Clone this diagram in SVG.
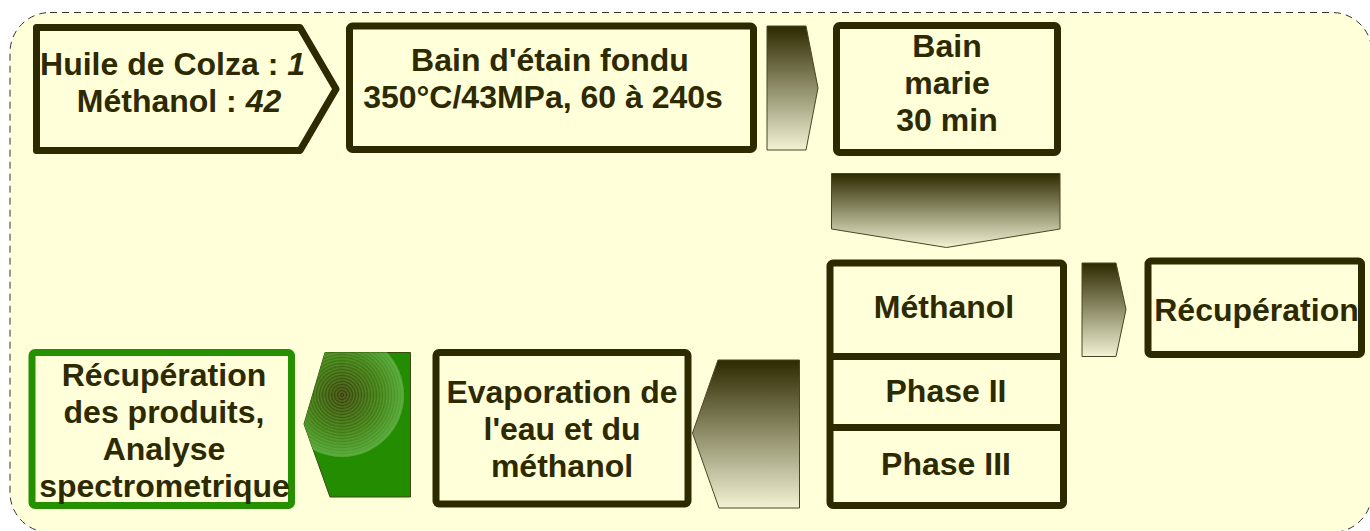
<svg xmlns="http://www.w3.org/2000/svg" width="1370" height="531" viewBox="0 0 1370 531">
  <style>
    .box { fill: none; stroke: #2d2a00; stroke-width: 7; stroke-linejoin: round; }
    .lbl { font-family: "Liberation Sans", Arial, sans-serif; font-weight: bold; font-size: 32px; fill: #2d2a00; text-anchor: middle; }
    .arrow { stroke: #4a4622; stroke-width: 1; }
    .it { font-style: italic; }
  </style>
  <defs>
    <linearGradient id="olive" x1="0" y1="0" x2="0" y2="1">
      <stop offset="0" stop-color="#2d2a00"/>
      <stop offset="1" stop-color="#f2f2d4"/>
    </linearGradient>
    <radialGradient id="glow" cx="342" cy="395" r="62" gradientUnits="userSpaceOnUse">
      <stop offset="0" stop-color="#3b3a0c"/>
      <stop offset="0.6" stop-color="#3f7a14"/>
      <stop offset="1" stop-color="#52a83a"/>
    </radialGradient>
    <!-- fine concentric rings laid over the glow -->
    <radialGradient id="rings" cx="342" cy="395" r="3" gradientUnits="userSpaceOnUse" spreadMethod="repeat">
      <stop offset="0" stop-color="#7cc04a" stop-opacity="0.35"/>
      <stop offset="0.5" stop-color="#7cc04a" stop-opacity="0"/>
      <stop offset="1" stop-color="#7cc04a" stop-opacity="0.35"/>
    </radialGradient>
    <clipPath id="hexClip">
      <polygon points="325,352.5 410.5,352.5 410.5,497 330,497 304,424"/>
    </clipPath>
  </defs>

  <!-- backdrop panel -->
  <rect x="10" y="12.5" width="1362" height="520" rx="40" ry="40" fill="#ffffd9" stroke="#333" stroke-width="1" stroke-dasharray="7,5"/>

  <g id="connectors">
    <polygon class="arrow" fill="url(#olive)" points="767,26 806,26 818,88 806,150 767,150"/>
    <polygon class="arrow" fill="url(#olive)" points="831.5,173.5 1060,173.5 1060,229 946.5,247.5 831.5,229"/>
    <polygon class="arrow" fill="url(#olive)" points="1082,263 1116,263 1126,309.5 1116,356.5 1082,356.5"/>
    <polygon class="arrow" fill="url(#olive)" points="799.5,360 799.5,508 719,508 692.5,433 718,360"/>
    <g id="arrow-green">
      <polygon points="325,352.5 410.5,352.5 410.5,497 330,497 304,424" fill="#238c00" stroke="#3a4a10" stroke-width="1"/>
      <g clip-path="url(#hexClip)">
        <circle cx="342" cy="395" r="62" fill="url(#glow)"/>
        <circle cx="342" cy="395" r="62" fill="url(#rings)"/>
      </g>
    </g>
  </g>

  <g id="node-melange">
    <path class="box" d="M36.5,27.5 H300 L336,89 L300,150.5 H36.5 Z"/>
    <text class="lbl" x="172.5" y="75">Huile de Colza : <tspan class="it">1</tspan></text>
    <text class="lbl" x="179" y="112">Méthanol : <tspan class="it">42</tspan></text>
  </g>

  <g id="node-bain-etain">
    <rect class="box" x="349.5" y="26" width="404" height="123.5" rx="3"/>
    <text class="lbl" x="550" y="71">Bain d'étain fondu</text>
    <text class="lbl" x="543" y="108">350°C/43MPa, 60 à 240s</text>
  </g>

  <g id="node-bain-marie">
    <rect class="box" x="836.5" y="25.5" width="221" height="127" rx="3"/>
    <text class="lbl" x="947" y="57">Bain</text>
    <text class="lbl" x="947" y="94">marie</text>
    <text class="lbl" x="947" y="131">30 min</text>
  </g>

  <g id="node-phases">
    <rect class="box" x="830" y="263" width="233.5" height="242.5" rx="3"/>
    <line class="box" x1="830" y1="356.5" x2="1063.5" y2="356.5"/>
    <line class="box" x1="830" y1="427.5" x2="1063.5" y2="427.5"/>
    <text class="lbl" x="944" y="318">Méthanol</text>
    <text class="lbl" x="946" y="402">Phase II</text>
    <text class="lbl" x="946" y="475">Phase III</text>
  </g>

  <g id="node-recuperation">
    <rect class="box" x="1148" y="261" width="213.5" height="93.5" rx="3"/>
    <text class="lbl" x="1256.5" y="321">Récupération</text>
  </g>

  <g id="node-evaporation">
    <rect class="box" x="436" y="352.5" width="252" height="151.5" rx="3"/>
    <text class="lbl" x="562" y="403">Evaporation de</text>
    <text class="lbl" x="562" y="440">l'eau et du</text>
    <text class="lbl" x="562" y="477">méthanol</text>
  </g>

  <g id="node-analyse">
    <rect class="box" style="stroke:#259000" x="32" y="352.5" width="259.5" height="153" rx="3"/>
    <text class="lbl" x="164" y="386">Récupération</text>
    <text class="lbl" x="164" y="423">des produits,</text>
    <text class="lbl" x="164" y="460">Analyse</text>
    <text class="lbl" x="164.5" y="497">spectrometrique</text>
  </g>
</svg>
